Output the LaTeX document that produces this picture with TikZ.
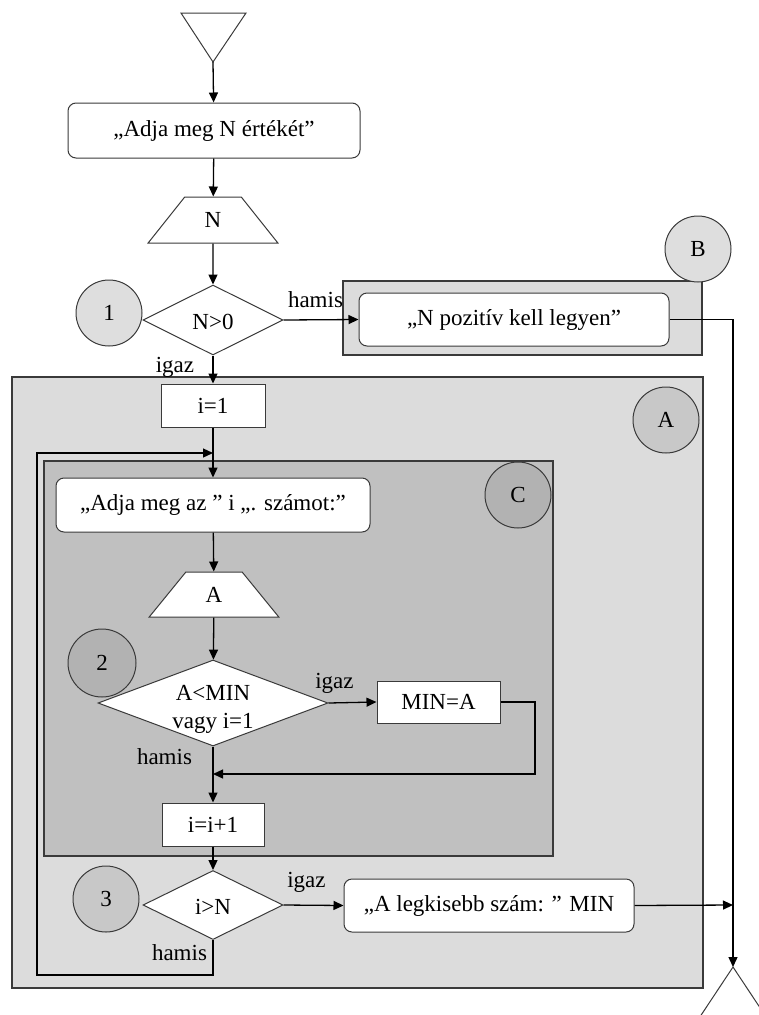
\documentclass[tikz,border=0pt]{standalone}
\usepackage{fontspec}
\setmainfont{Liberation Serif}
\usetikzlibrary{arrows.meta,shapes.geometric,calc}
\definecolor{boxline}{HTML}{3A3A3A}
\definecolor{outerfill}{HTML}{DCDCDC}
\definecolor{innerfill}{HTML}{C0C0C0}
\definecolor{tagA}{HTML}{C8C8C8}
\definecolor{tagC}{HTML}{B2B2B2}
\definecolor{tagLight}{HTML}{DEDEDE}
\begin{document}
\begin{tikzpicture}[x=1pt,y=-1pt,
  every node/.style={font=\fontsize{23}{28}\selectfont},
  wire/.style={line width=1.3pt},
  flow/.style={wire,-{Triangle[length=10pt,width=9pt]}},
  box/.style={rectangle,draw=boxline,line width=1pt,fill=white,inner sep=0pt},
  rbox/.style={box,rounded corners=8pt},
  dia/.style={diamond,draw=boxline,line width=1pt,fill=white,inner sep=0pt},
  io/.style={trapezium,trapezium stretches=true,trapezium left angle=55,
    trapezium right angle=55,draw=boxline,line width=1pt,fill=white,
    inner sep=2pt,minimum height=46pt,minimum width=130pt},
  tag/.style={circle,draw=boxline,line width=1pt,minimum size=66pt,inner sep=0pt},
  group/.style={draw=boxline,line width=1.3pt},
  lbl/.style={inner sep=0pt}]
\useasboundingbox (0,0) rectangle (759,1015);
\clip (0,0) rectangle (759,1015);

% grouping frames
\draw[group,fill=outerfill] (343,281) rectangle (702,355);
\draw[group,fill=outerfill] (12,377) rectangle (703,988);
\draw[group,fill=innerfill] (44,461) rectangle (553,856);

% start and end terminals
\draw[boxline,line width=1pt] (181,13) -- (246,13) -- (213,62) -- cycle;
\coordinate (startTip) at (213,62);
\coordinate (endTip) at (733,967);
\draw[boxline,line width=1pt] (700.5,1016) -- (endTip) -- (765.5,1016);

% blocks
\node[rbox,minimum width=292pt,minimum height=55pt] (in1) at (214,130.5) {„Adja meg N értékét”};
\node[io] (inN) at (213,220) {N};
\node[dia,minimum width=140pt,minimum height=70pt] (d1) at (213,320) {};
\node[lbl] (d1t) at (213,322) {N>0};
\node[rbox,minimum width=310pt,minimum height=53pt] (outB) at (514,319.5) {„N pozitív kell legyen”};
\node[box,minimum width=104pt,minimum height=43pt] (init) at (213,405.5) {i=1};
\node[rbox,minimum width=314pt,minimum height=54pt] (in2) at (213,505) {„Adja meg az ” i „. számot:”};
\node[io,minimum height=45pt] (inA) at (214,594.5) {A};
\node[dia,minimum width=230pt,minimum height=86pt] (d2) at (213,703) {};
\node[lbl,align=center] (d2t) at (213,709) {A<MIN\\vagy i=1};
\node[box,minimum width=123pt,minimum height=42pt] (setmin) at (438.5,702) {MIN=A};
\node[box,minimum width=102pt,minimum height=43pt] (inc) at (213,824.5) {i=i+1};
\node[dia,minimum width=140pt,minimum height=69pt] (d3) at (213,905) {};
\node[lbl] (d3t) at (213,907) {i>N};
\node[rbox,minimum width=290pt,minimum height=53pt] (out2) at (489,905.5) {„A legkisebb szám: ” MIN};

% reference tags
\node[tag,fill=tagLight] (c1) at (109,313) {1};
\node[tag,fill=tagLight] (cB) at (698,249) {B};
\node[tag,fill=tagA] (cA) at (666,420) {A};
\node[tag,fill=tagC] (cC) at (518,495) {C};
\node[tag,fill=tagC,minimum size=68pt] (c2) at (102,663) {2};
\node[tag,fill=tagA] (c3) at (106,899) {3};

% helper points of the routed connectors
\coordinate (loopBL) at (37,975);
\coordinate (loopIn) at (213,453);
\coordinate (mergeR) at (535,774);
\coordinate (merge) at (213,774);
\coordinate (joinR) at (733,905);

% connectors
\draw[flow] (startTip) -- (in1);
\draw[flow] (in1) -- (inN);
\draw[flow] (inN) -- (d1);
\draw[flow] (d1.east) -- (outB.west);
\draw[flow] (d1.south) -- (init.north);
\draw[flow] (outB.east) -| (endTip);
\draw[flow] (init.south) -- (in2.north);
\draw[flow] (in2) -- (inA);
\draw[flow] (inA) -- (d2);
\draw[flow] (d2.east) -- (setmin.west);
\draw[flow] (setmin.east) -| (mergeR) -- (merge);
\draw[flow] (d2.south) -- (inc.north);
\draw[flow] (inc) -- (d3);
\draw[flow] (d3.east) -- (out2.west);
\draw[flow] (out2.east) -- (joinR);
\draw[flow] (d3.south) |- (loopBL) |- (loopIn);

% branch labels
\node[lbl] (l1) at (315.5,300) {hamis};
\node[lbl] (l2) at (175,367) {igaz};
\node[lbl] (l3) at (334.5,683) {igaz};
\node[lbl] (l4) at (164.5,757) {hamis};
\node[lbl] (l5) at (306.5,882) {igaz};
\node[lbl] (l6) at (179.5,953) {hamis};
\end{tikzpicture}
\end{document}
